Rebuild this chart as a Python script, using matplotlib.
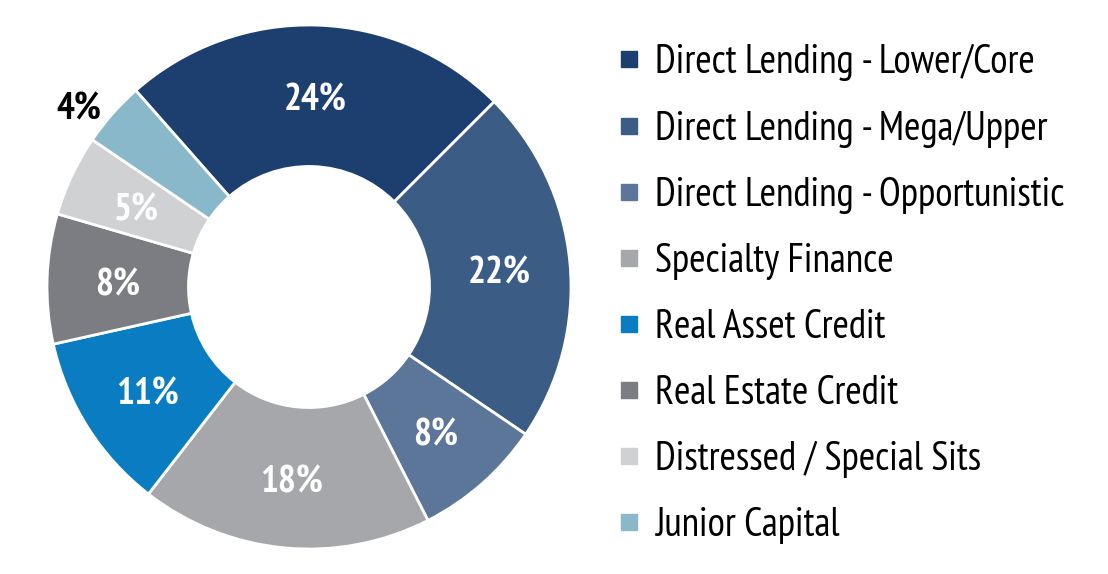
import matplotlib
matplotlib.use('Agg')
import matplotlib.pyplot as plt
from matplotlib.lines import Line2D
import numpy as np

plt.rcParams['font.family'] = ['PT Sans Narrow', 'DejaVu Sans']
plt.rcParams['font.stretch'] = 'condensed'

categories = ['Direct Lending - Lower/Core', 'Direct Lending - Mega/Upper',
              'Direct Lending - Opportunistic', 'Specialty Finance',
              'Real Asset Credit', 'Real Estate Credit',
              'Distressed / Special Sits', 'Junior Capital']
values = [24, 22, 8, 18, 11, 8, 5, 4]
colors = ['#1c3f70', '#3a5c85', '#5b7699', '#a6a7aa',
          '#0a7cc1', '#7c7d82', '#d0d1d3', '#8ab8cb']

fig = plt.figure(figsize=(11.08, 5.74), dpi=100)
ax = fig.add_axes([47/1108, 25/574, 524/1108, 524/574])

wedges, texts = ax.pie(values, colors=colors, startangle=131.4, counterclock=False,
                       radius=1.0, wedgeprops=dict(width=0.54, edgecolor='white', linewidth=2))
ax.set_xlim(-1, 1)
ax.set_ylim(-1, 1)
ax.set_aspect('equal')
ax.axis('off')

# percent labels, small slice goes outside in black
for w, v in zip(wedges, values):
    ang = (w.theta1 + w.theta2) / 2
    if v <= 4:
        r, col = 1.12, 'black'
        ang += 3
    else:
        r, col = 0.73, 'white'
    ang = np.deg2rad(ang)
    ax.text(r * np.cos(ang), r * np.sin(ang) - 0.02, '{}%'.format(v), ha='center', va='center',
            color=col, fontsize=27, fontweight='bold')

handles = [Line2D([], [], marker='s', linestyle='none', markersize=11,
                  markerfacecolor=c, markeredgecolor=c) for c in colors]
fig.legend(handles, categories, loc='upper left', bbox_to_anchor=(617/1108, 1 - 44/574),
           frameon=False, fontsize=28.5, handlelength=0.6, handletextpad=0.35,
           labelspacing=0.735, borderaxespad=0, borderpad=0)

fig.savefig('out.png', dpi=100)
